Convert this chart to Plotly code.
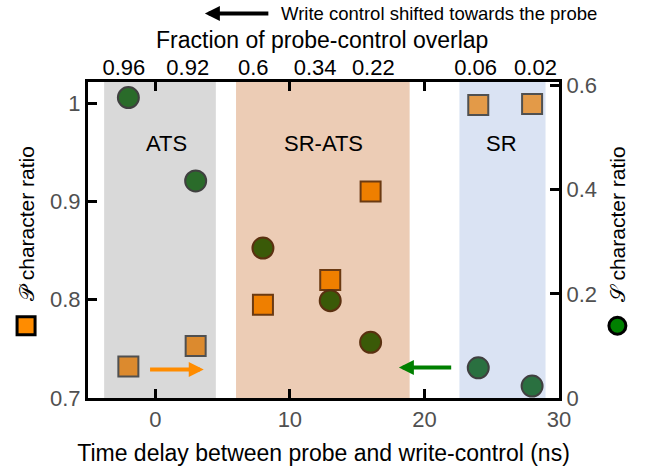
import plotly.graph_objects as go

# ---- data ----
delay_ns = [-2, 3, 8, 13, 16, 24, 28]
p_ratio = [0.732, 0.753, 0.795, 0.820, 0.910, 0.998, 0.999]
s_ratio = [0.577, 0.417, 0.288, 0.187, 0.107, 0.058, 0.023]

top_tick_pos = [-2.33, 2.41, 7.28, 11.88, 16.2, 23.8, 28.25]
top_tick_text = ["0.96", "0.92", "0.6", "0.34", "0.22", "0.06", "0.02"]

region_names = ["ATS", "SR-ATS", "SR"]
region_start = [-3.8, 6.0, 22.6]
region_end = [4.5, 18.9, 29.0]
region_label_x = [0.87, 12.47, 25.76]
region_label_y = 0.959

x_ticks = [0, 10, 20, 30]
y_left_ticks = [0.7, 0.8, 0.9, 1.0]
y_left_text = ["0.7", "0.8", "0.9", "1"]
y_right_ticks = [0, 0.2, 0.4, 0.6]
y_right_text = ["0", "0.2", "0.4", "0.6"]

# ---- styles ----
FONT = "Arial, Liberation Sans, sans-serif"
region_colors = ["#d9d9d9", "#ecccb5", "#dae3f3"]
sq_fill = ["#dc8a2e", "#dc8a2e", "#ef7f00", "#ef7f00", "#ef7f00", "#e39a48", "#e39a48"]
sq_line = ["#505050", "#505050", "#6b3a12", "#6b3a12", "#6b3a12", "#505050", "#505050"]
ci_fill = ["#2a6b2a", "#2a6b2a", "#3a5a08", "#3a5a08", "#3a5a08", "#2a7040", "#2a7040"]
ci_line = ["#404040", "#404040", "#5a3010", "#5a3010", "#5a3010", "#404040", "#404040"]

fig = go.Figure()

fig.add_trace(go.Scatter(
    x=delay_ns, y=p_ratio, mode="markers", xaxis="x", yaxis="y",
    marker=dict(symbol="square", size=20, color=sq_fill,
                line=dict(color=sq_line, width=2)),
    cliponaxis=False, hoverinfo="skip"))

fig.add_trace(go.Scatter(
    x=delay_ns, y=s_ratio, mode="markers", xaxis="x", yaxis="y2",
    marker=dict(symbol="circle", size=21, color=ci_fill,
                line=dict(color=ci_line, width=2)),
    cliponaxis=False, hoverinfo="skip"))

# invisible trace to activate top axis
fig.add_trace(go.Scatter(x=[top_tick_pos[0]], y=[p_ratio[0]], xaxis="x2", yaxis="y",
                         mode="markers", marker=dict(opacity=0), hoverinfo="skip"))

shapes = []
for x0, x1, c in zip(region_start, region_end, region_colors):
    shapes.append(dict(type="rect", xref="x", yref="y domain", x0=x0, x1=x1, y0=0, y1=1,
                       fillcolor=c, line=dict(width=0), layer="below"))

# legend-like markers next to axis titles
shapes.append(dict(type="rect", xref="paper", yref="paper", xsizemode="pixel", ysizemode="pixel",
                   xanchor=-0.1315, yanchor=0.2287, x0=-9, x1=9, y0=-9, y1=9,
                   fillcolor="#ff8c00", line=dict(color="black", width=3)))
shapes.append(dict(type="circle", xref="paper", yref="paper", xsizemode="pixel", ysizemode="pixel",
                   xanchor=1.124, yanchor=0.2287, x0=-8.5, x1=8.5, y0=-8.5, y1=8.5,
                   fillcolor="#008000", line=dict(color="black", width=3)))

annotations = []
for name, lx in zip(region_names, region_label_x):
    annotations.append(dict(x=lx, y=region_label_y, xref="x", yref="y", text=name,
                            xanchor="center", yanchor="middle",
                            showarrow=False, font=dict(size=22, color="black", family=FONT)))

# arrows inside plot
annotations.append(dict(x=3.6, y=0.729, ax=-0.5, ay=0.729, xref="x", yref="y",
                        axref="x", ayref="y", text="", showarrow=True,
                        arrowhead=2, arrowsize=0.75, arrowwidth=4, arrowcolor="#ff8c00"))
annotations.append(dict(x=18.1, y=0.731, ax=22.1, ay=0.731, xref="x", yref="y",
                        axref="x", ayref="y", text="", showarrow=True,
                        arrowhead=2, arrowsize=0.75, arrowwidth=4, arrowcolor="#008000"))

# top arrow + text
annotations.append(dict(x=0.2481, y=1.217, xref="paper", yref="paper", ax=65, ay=0,
                        text="", showarrow=True, arrowhead=2, arrowsize=0.75,
                        arrowwidth=4, arrowcolor="black"))
annotations.append(dict(x=0.7445, y=1.216, xref="paper", yref="paper",
                        xanchor="center", yanchor="middle",
                        text="Write control shifted towards the probe", showarrow=False,
                        font=dict(size=18.5, color="black", family=FONT)))
annotations.append(dict(x=0.4963, y=1.134, xref="paper", yref="paper",
                        xanchor="center", yanchor="middle",
                        text="Fraction of probe-control overlap", showarrow=False,
                        font=dict(size=23, color="black", family=FONT)))

# axis titles
annotations.append(dict(x=-0.1315, y=0.5505, xref="paper", yref="paper", textangle=-90,
                        xanchor="center", yanchor="middle",
                        text="\U0001D4AB character ratio", showarrow=False,
                        font=dict(size=21, color="black", family=FONT)))
annotations.append(dict(x=1.124, y=0.5505, xref="paper", yref="paper", textangle=-90,
                        xanchor="center", yanchor="middle",
                        text="\U0001D4AE character ratio", showarrow=False,
                        font=dict(size=21, color="black", family=FONT)))

axis_common = dict(showgrid=False, zeroline=False, showline=True, linecolor="black",
                   linewidth=3, ticks="inside", tickcolor="black", tickwidth=3, ticklen=9,
                   automargin=False)

fig.update_layout(
    width=657, height=471,
    margin=dict(l=88, r=97.5, t=81.5, b=72.5, autoexpand=False),
    plot_bgcolor="white", paper_bgcolor="white",
    showlegend=False,
    font=dict(family=FONT, color="black"),
    shapes=shapes, annotations=annotations,
    xaxis=dict(range=[-5, 30], tickvals=x_ticks, mirror="ticks",
               tickfont=dict(size=22, color="#505050"),
               title=dict(text="Time delay between probe and write-control (ns)",
                          font=dict(size=23, color="black"), standoff=14),
               **axis_common),
    xaxis2=dict(range=[-5, 30], overlaying="x", side="top", anchor="y",
                tickvals=top_tick_pos, ticktext=top_tick_text, ticks="",
                showline=False, showgrid=False, zeroline=False, tickangle=0,
                ticklabelstandoff=2, automargin=False,
                tickfont=dict(size=22, color="black")),
    yaxis=dict(range=[0.7, 1.0215], tickvals=y_left_ticks, ticktext=y_left_text,
               tickfont=dict(size=22, color="#505050"), **axis_common),
    yaxis2=dict(range=[0, 0.607], overlaying="y", side="right", anchor="x",
                tickvals=y_right_ticks, ticktext=y_right_text,
                tickfont=dict(size=22, color="#505050"), **axis_common),
)

fig.write_html("out.html")
